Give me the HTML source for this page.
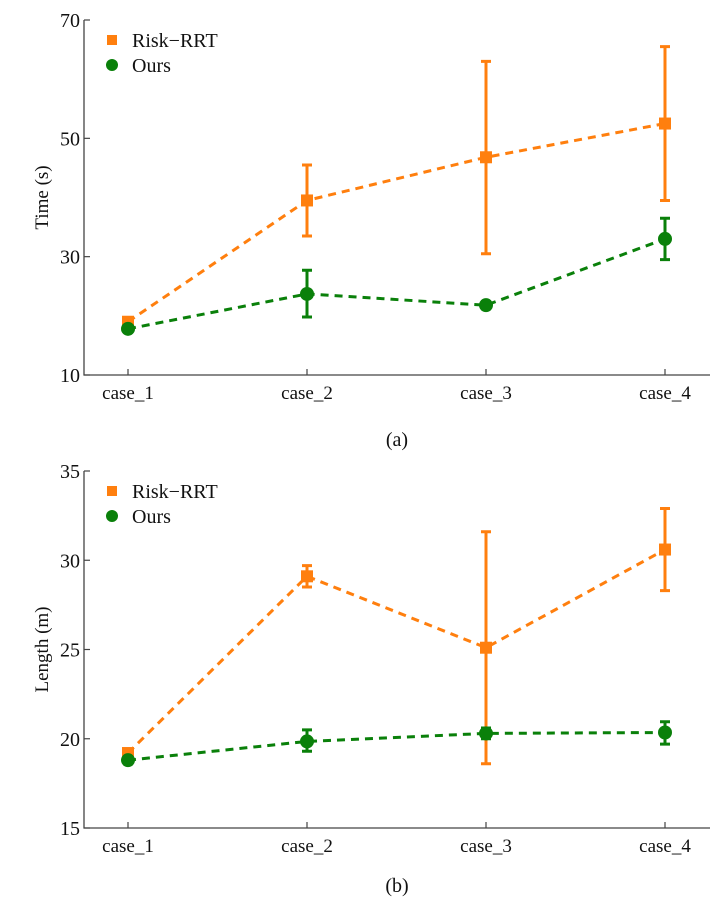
<!DOCTYPE html>
<html><head><meta charset="utf-8"><style>
body{margin:0;background:#fff;width:720px;height:910px;overflow:hidden}
text{font-family:"Liberation Serif",serif;fill:#111}
</style></head><body>
<svg id="svg" width="720" height="910"></svg>
<script>
const categories=["case_1","case_2","case_3","case_4"];
const timeRisk=[19,39.5,46.8,52.5];
const timeRiskLo=[18.5,33.5,30.5,39.5];
const timeRiskHi=[19.5,45.5,63,65.5];
const timeOurs=[17.8,23.7,21.8,33];
const timeOursLo=[17.4,19.8,21.2,29.5];
const timeOursHi=[18.2,27.7,22.4,36.5];
const timeTicks=[10,30,50,70];
const lenRisk=[19.2,29.1,25.1,30.6];
const lenRiskLo=[19.0,28.5,18.6,28.3];
const lenRiskHi=[19.4,29.7,31.6,32.9];
const lenOurs=[18.8,19.85,20.3,20.35];
const lenOursLo=[18.6,19.3,20.0,19.7];
const lenOursHi=[19.0,20.5,20.6,20.95];
const lenTicks=[15,20,25,30,35];

const NS="http://www.w3.org/2000/svg";
const svg=document.getElementById('svg');
const OR="#ff7f0e",GR="#0a800a";
function mk(tag,attrs,parent){const e=document.createElementNS(NS,tag);for(const k in attrs)e.setAttribute(k,attrs[k]);(parent||svg).appendChild(e);return e;}
const xPos=[128,308,486,665];
function xs(i){return xPos[0]+(xPos[3]-xPos[0])*i/(categories.length-1);}

function chart(cfg){
  const g=mk('g',{});
  
  
  const ys=v=>cfg.y0+(v-cfg.min)/(cfg.max-cfg.min)*(cfg.y1-cfg.y0);
  const ax=mk('path',{d:`M84,${cfg.y1}L84,${cfg.y0}L710,${cfg.y0}`,stroke:'#444',fill:'none','stroke-width':1.3},g);
  
  
  cfg.ticks.forEach(t=>{
    const y=ys(t);
    mk('line',{x1:84,x2:90,y1:y,y2:y,stroke:'#444','stroke-width':1.2},g);
    const tx=mk('text',{x:80,y:y+7,'text-anchor':'end','font-size':20},g);
    tx.textContent=t;
    
    
  });
  categories.forEach((c,i)=>{
    const x=xs(i);
    mk('line',{x1:x,x2:x,y1:cfg.y0,y2:cfg.y0-6,stroke:'#444','stroke-width':1.2},g);
    const tx=mk('text',{x:x,y:cfg.y0+24,'text-anchor':'middle','font-size':19},g);
    tx.textContent=c;
    
    
  });
  const yl=mk('text',{x:0,y:0,'text-anchor':'middle','font-size':19,transform:`translate(48,${(cfg.y0+cfg.y1)/2}) rotate(-90)`},g);
  yl.textContent=cfg.ylabel;
  
  
  const cap=mk('text',{x:397,y:cfg.capY,'text-anchor':'middle','font-size':20},g);
  cap.textContent=cfg.caption;
  
  
  [[cfg.risk,cfg.riskLo,cfg.riskHi,OR,'risk-rrt',true],[cfg.ours,cfg.oursLo,cfg.oursHi,GR,'ours',false]].forEach(([v,lo,hi,col,nm,sq])=>{
    const line=mk('polyline',{points:v.map((d,i)=>xs(i)+','+ys(d)).join(' '),fill:'none',stroke:col,'stroke-width':3,'stroke-dasharray':'8,6'},g);
    
    
    v.forEach((d,i)=>{
      const x=xs(i);
      const eb=mk('path',{d:`M${x},${ys(lo[i])}L${x},${ys(hi[i])}M${x-5},${ys(lo[i])}L${x+5},${ys(lo[i])}M${x-5},${ys(hi[i])}L${x+5},${ys(hi[i])}`,stroke:col,'stroke-width':3,fill:'none'},g);
      
      
      const m=sq?mk('rect',{x:x-6,y:ys(d)-6,width:12,height:12,fill:col},g):mk('circle',{cx:x,cy:ys(d),r:7,fill:col},g);
      
      
    });
  });
  const ly=cfg.y1+20;
  const l1=mk('rect',{x:107,y:ly-5,width:10,height:10,fill:OR},g);
  
  
  const t1=mk('text',{x:132,y:ly+7,'font-size':20},g);t1.textContent='Risk\u2212RRT';
  
  
  const l2=mk('circle',{cx:112,cy:ly+25,r:6,fill:GR},g);
  
  
  const t2=mk('text',{x:132,y:ly+32,'font-size':20},g);t2.textContent='Ours';
  
  
}
chart({name:'time-chart',y0:375,y1:20,min:10,max:70,ticks:timeTicks,ylabel:'Time (s)',caption:'(a)',capY:446,
  risk:timeRisk,riskLo:timeRiskLo,riskHi:timeRiskHi,ours:timeOurs,oursLo:timeOursLo,oursHi:timeOursHi});
chart({name:'length-chart',y0:828,y1:471,min:15,max:35,ticks:lenTicks,ylabel:'Length (m)',caption:'(b)',capY:892,
  risk:lenRisk,riskLo:lenRiskLo,riskHi:lenRiskHi,ours:lenOurs,oursLo:lenOursLo,oursHi:lenOursHi});
</script>
</body></html>
